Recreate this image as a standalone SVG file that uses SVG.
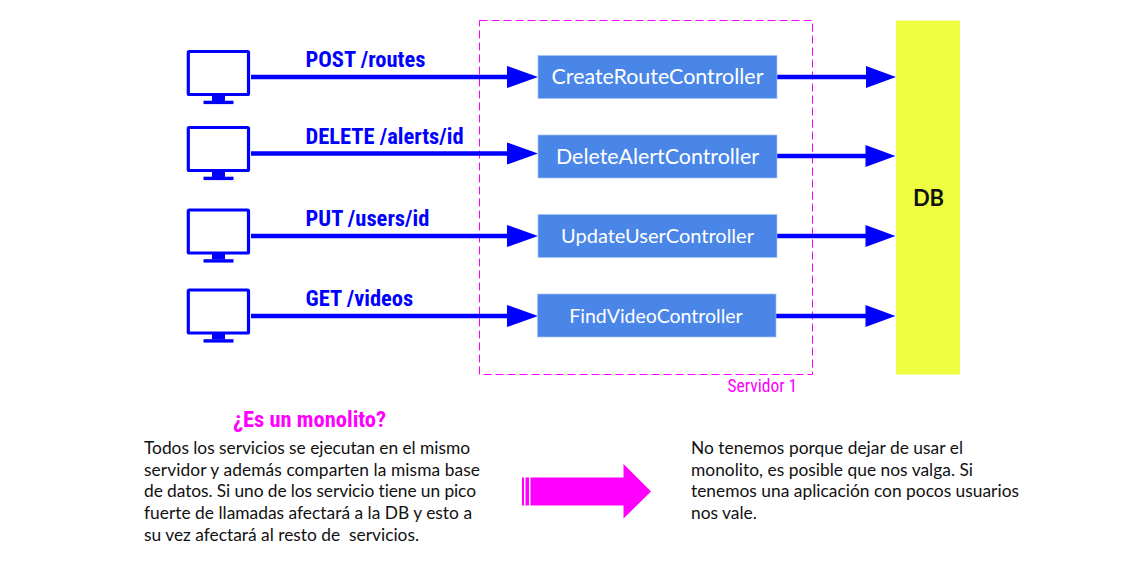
<svg xmlns="http://www.w3.org/2000/svg" width="1146" height="565" viewBox="0 0 1146 565">
<style>
.api{font:700 22.5px "Roboto Condensed",Roboto,sans-serif;fill:#0000ff}
.ctl{font-family:Lato,sans-serif;fill:#fff;text-anchor:middle;font-variant-ligatures:none}
.box{fill:#4a86e8;stroke:#a4c2f4;stroke-width:.7}
.body{font:17.35px Lato,sans-serif;fill:#111;font-variant-ligatures:none}
.conn{stroke:#0000ff;stroke-width:4.5;fill:none}
.scr{fill:#fff;stroke:#0000ff;stroke-width:3.2;stroke-linejoin:round}
</style>
<defs>
<g id="mon"><rect class="scr" x="188.300" y="1.500" width="60.200" height="43" rx="1"/><rect x="212" y="45" width="13" height="6" fill="#00f"/><rect x="203.500" y="50.700" width="30" height="3.400" fill="#00f"/></g>
</defs>
<rect id="server" x="479.500" y="20.500" width="333" height="354" fill="none" stroke="#ff00ff" stroke-width="1" stroke-dasharray="8 4"/>
<g id="connectors">
<path class="conn" d="M251 77H510M777 77H868M251 153.500H510M777 156H868M251 236H510M777 236H868M251 316H510M776 316H868"/>
<g fill="#0000ff">
<path d="M507 66l31 11-31 11zM866 66l30 11-30 11zM507 142.500l31 11-31 11zM865.500 145l30 11-30 11zM507 225l31 11-31 11zM865.500 225l30 11-30 11zM507 305l31 11-31 11zM865.500 305l30 11-30 11z"/>
</g>
</g>
<g id="client1"><use href="#mon" y="50"/></g>
<g id="client2"><use href="#mon" y="126"/></g>
<g id="client3"><use href="#mon" y="208.500"/></g>
<g id="client4"><use href="#mon" y="288.500"/></g>
<g id="label1"><text class="api" x="305.500" y="67">POST /routes</text></g>
<g id="label2"><text class="api" x="305.500" y="143.500">DELETE /alerts/id</text></g>
<g id="label3"><text class="api" x="305.500" y="225.500">PUT /users/id</text></g>
<g id="label4"><text class="api" x="305.500" y="306">GET /videos</text></g>
<g id="ctl1"><rect class="box" x="538" y="55.500" width="239" height="43"/><text class="ctl" font-size="21.400" x="657.500" y="84">CreateRouteController</text></g>
<g id="ctl2"><rect class="box" x="538" y="135" width="239" height="43"/><text class="ctl" font-size="21.400" x="657.500" y="164">DeleteAlertController</text></g>
<g id="ctl3"><rect class="box" x="538" y="214.500" width="239" height="43"/><text class="ctl" font-size="20" x="657.500" y="243">UpdateUserController</text></g>
<g id="ctl4"><rect class="box" x="537.500" y="294" width="238.500" height="43"/><text class="ctl" font-size="19.500" x="656" y="323">FindVideoController</text></g>
<g id="db"><rect x="896" y="20.500" width="64" height="354" fill="#eeff41"/><text x="928.500" y="205.500" font-family="Lato,sans-serif" font-weight="700" font-size="22" text-anchor="middle" fill="#111">DB</text></g>
<text x="727.500" y="392" font-family="Roboto Condensed,Roboto,sans-serif" font-size="17.500" fill="#ff00ff">Servidor 1</text>
<text x="233" y="427" font-family="Roboto Condensed,Roboto,sans-serif" font-weight="700" font-size="22.500" fill="#ff00ff">¿Es un monolito?</text>
<g class="body">
<text x="144" y="453.500" textLength="326">Todos los servicios se ejecutan en el mismo</text>
<text x="144" y="475.500" textLength="336">servidor y además comparten la misma base</text>
<text x="144" y="497" textLength="332">de datos. Si uno de los servicio tiene un pico</text>
<text x="144" y="518.500" textLength="328">fuerte de llamadas afectará a la DB y esto a</text>
<text x="144" y="540.500" style="white-space:pre" textLength="275">su vez afectará al resto de  servicios.</text>
<text x="691" y="453.500" textLength="272">No tenemos porque dejar de usar el</text>
<text x="691" y="475.500" textLength="282">monolito, es posible que nos valga. Si</text>
<text x="691" y="497" textLength="328">tenemos una aplicación con pocos usuarios</text>
<text x="691" y="518.500">nos vale.</text>
</g>
<g id="bigarrow" fill="#ff00ff">
<rect x="522" y="477.500" width="2" height="28"/><rect x="525.500" y="477.500" width="3.500" height="28"/><path d="M530.500 477.500H623.500V464L651 491.500L623.500 518.500V505.500H530.500Z"/>
</g>
</svg>
